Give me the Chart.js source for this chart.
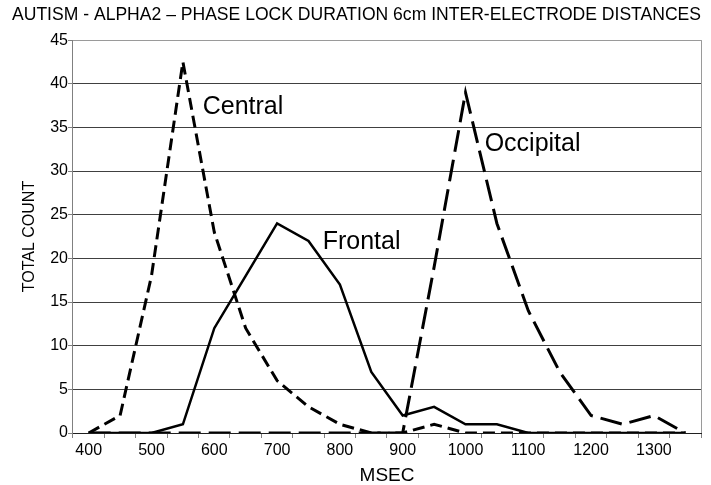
<!DOCTYPE html>
<html>
<head>
<meta charset="utf-8">
<script src="https://cdn.jsdelivr.net/npm/chart.js@4.4.1/dist/chart.umd.min.js"></script>
<style>
  html, body { margin: 0; padding: 0; background: #fff; }
  #wrap { width: 711px; height: 485px; }
</style>
</head>
<body>
<div id="wrap"><canvas id="chart"></canvas></div>
<script>
// Phase lock duration histogram, one category every 50 ms.
const MSEC = [400, 450, 500, 550, 600, 650, 700, 750, 800, 850, 900, 950, 1000, 1050, 1100, 1150, 1200, 1250, 1300, 1350];
const CENTRAL = [0, 2, 18, 42.5, 23, 12, 6, 3, 1, 0, 0, 1, 0, 0, 0, 0, 0, 0, 0, 0];
const FRONTAL = [0, 0, 0, 1, 12, 18, 24, 22, 17, 7, 2, 3, 1, 1, 0, 0, 0, 0, 0, 0];
const OCCIPITAL = [0, 0, 0, 0, 0, 0, 0, 0, 0, 0, 0, 19, 39, 24, 14, 7, 2, 1, 2, 0];
const SERIES_NAMES = ["Central", "Frontal", "Occipital"];

const FONT = "'Liberation Sans', Arial, sans-serif";
const INK = "#000";
const GRID = "#404040";
const FRAME = "#9a9a9a";

// Series names written next to their curves (category index, count).
const nameTags = {
  id: "nameTags",
  afterDatasetsDraw(chart) {
    const { ctx, scales } = chart;
    const spots = [[3.63, 36.5], [7.45, 21.1], [12.61, 32.3]];
    ctx.save();
    ctx.font = "25px " + FONT;
    ctx.fillStyle = INK;
    ctx.textBaseline = "alphabetic";
    SERIES_NAMES.forEach((name, i) => {
      ctx.fillText(name, scales.x.getPixelForValue(spots[i][0]), scales.y.getPixelForValue(spots[i][1]));
    });
    ctx.restore();
  }
};

// Right-hand edge of the plot frame.
const frameEdge = {
  id: "frameEdge",
  beforeDatasetsDraw(chart) {
    const { ctx, chartArea } = chart;
    ctx.save();
    ctx.strokeStyle = FRAME;
    ctx.lineWidth = 1;
    ctx.beginPath();
    ctx.moveTo(Math.round(chartArea.right) + 0.5, chartArea.top);
    ctx.lineTo(Math.round(chartArea.right) + 0.5, chartArea.bottom);
    ctx.stroke();
    ctx.restore();
  }
};

Chart.defaults.font.family = FONT;
Chart.defaults.color = INK;

new Chart(document.getElementById("chart"), {
  type: "line",
  data: {
    labels: MSEC.map(String),
    datasets: [
      {
        label: SERIES_NAMES[0],
        data: CENTRAL,
        borderColor: INK,
        borderWidth: 3,
        borderDash: [12, 6],
        pointRadius: 0,
        tension: 0
      },
      {
        label: SERIES_NAMES[1],
        data: FRONTAL,
        borderColor: INK,
        borderWidth: 2.5,
        pointRadius: 0,
        tension: 0
      },
      {
        label: SERIES_NAMES[2],
        data: OCCIPITAL,
        borderColor: INK,
        borderWidth: 3,
        borderDash: [22, 8],
        pointRadius: 0,
        tension: 0
      }
    ]
  },
  plugins: [frameEdge, nameTags],
  options: {
    responsive: true,
    maintainAspectRatio: false,
    animation: false,
    layout: { padding: { top: 0, right: 10, bottom: 0, left: 12 } },
    plugins: {
      legend: { display: false },
      tooltip: { enabled: false },
      title: {
        display: true,
        text: "AUTISM - ALPHA2 \u2013 PHASE LOCK DURATION 6cm INTER-ELECTRODE DISTANCES",
        color: INK,
        font: { size: 18, weight: "normal" },
        padding: { top: 4, bottom: 14.5 }
      }
    },
    scales: {
      x: {
        offset: true,
        grid: {
          offset: true,
          drawOnChartArea: false,
          tickLength: 5,
          tickColor: "#808080"
        },
        border: { color: "#202020" },
        ticks: {
          autoSkip: false,
          maxRotation: 0,
          padding: 5,
          font: { size: 16, lineHeight: 1 },
          callback: (value, i) => (MSEC[i] % 100 === 0 ? String(MSEC[i]) : "")
        },
        title: {
          display: true,
          text: "MSEC",
          font: { size: 19, lineHeight: 1 },
          padding: { top: 2, bottom: 0 }
        }
      },
      y: {
        min: 0,
        max: 45,
        grid: {
          color: (ctx) => (ctx.tick && ctx.tick.value === 45 ? FRAME : GRID),
          tickLength: 5,
          tickColor: "#808080"
        },
        border: { color: "#808080" },
        ticks: {
          stepSize: 5,
          padding: 0,
          font: { size: 16 }
        },
        title: {
          display: true,
          text: "TOTAL COUNT",
          font: { size: 16 },
          padding: { top: 8, bottom: 11 }
        }
      }
    }
  }
});
</script>
</body>
</html>
